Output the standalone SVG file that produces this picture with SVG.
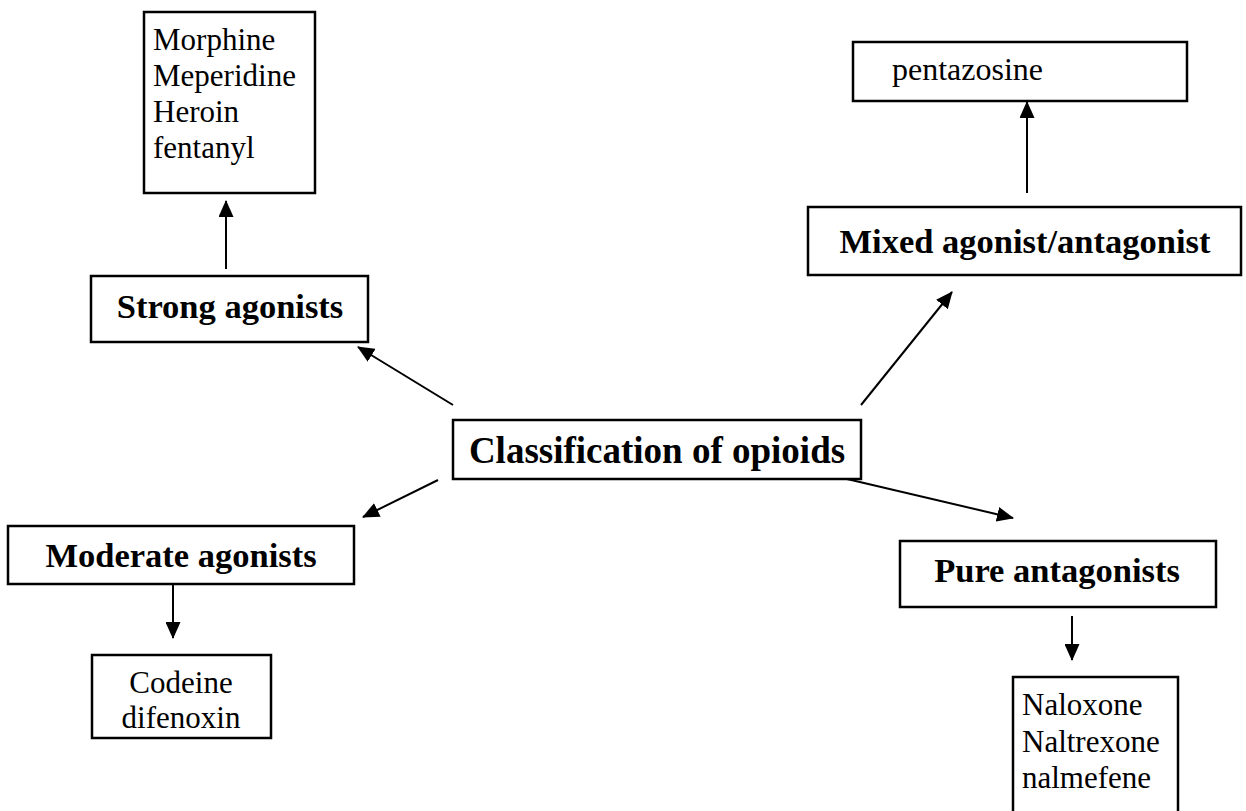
<svg xmlns="http://www.w3.org/2000/svg" width="1246" height="811" viewBox="0 0 1246 811">
<style>
.box{fill:#fff;stroke:#000;stroke-width:2.5}
.b{font-family:"Liberation Serif","Times New Roman",serif;font-weight:bold;font-size:34.5px;fill:#000;text-anchor:middle}
.bc{font-family:"Liberation Serif","Times New Roman",serif;font-weight:bold;font-size:37px;fill:#000;text-anchor:middle}
.r{font-family:"Liberation Serif","Times New Roman",serif;font-size:31px;fill:#000}
.rc{font-family:"Liberation Serif","Times New Roman",serif;font-size:31px;fill:#000;text-anchor:middle}
.ln{stroke:#000;stroke-width:2;fill:none;marker-end:url(#ah)}
</style>
<defs>
<marker id="ah" markerWidth="17" markerHeight="15" refX="16" refY="7.5" orient="auto" markerUnits="userSpaceOnUse">
<path d="M0,0 L17,7.5 L0,15 Z" fill="#000"/>
</marker>
</defs>
<rect width="1246" height="811" fill="#fff"/>
<g id="connectors">
<line class="ln" x1="226" y1="269" x2="226" y2="201"/>
<line class="ln" x1="1027" y1="193" x2="1027" y2="102"/>
<line class="ln" x1="453" y1="405" x2="358" y2="347"/>
<line class="ln" x1="861" y1="405" x2="952" y2="292"/>
<line class="ln" x1="438" y1="480" x2="363" y2="517"/>
<line class="ln" x1="847" y1="479" x2="1013" y2="518"/>
<line class="ln" x1="173" y1="585" x2="173" y2="638"/>
<line class="ln" x1="1072" y1="616" x2="1072" y2="660"/>
</g>
<g id="morphine">
<rect class="box" x="144" y="12" width="171" height="181"/>
<text class="r" x="153" y="50">Morphine</text>
<text class="r" x="153" y="86">Meperidine</text>
<text class="r" x="153" y="122">Heroin</text>
<text class="r" x="153" y="158">fentanyl</text>
</g>
<g id="strong">
<rect class="box" x="91" y="276" width="277" height="66"/>
<text class="b" x="230" y="318">Strong agonists</text>
</g>
<g id="pentazosine">
<rect class="box" x="853" y="42" width="334" height="59"/>
<text class="r" x="892" y="80" style="font-size:32px">pentazosine</text>
</g>
<g id="mixed">
<rect class="box" x="808" y="207" width="433" height="68"/>
<text class="b" x="1025" y="253">Mixed agonist/antagonist</text>
</g>
<g id="classification">
<rect class="box" x="453" y="420" width="408" height="59"/>
<text class="bc" x="657" y="463">Classification of opioids</text>
</g>
<g id="moderate">
<rect class="box" x="8" y="526" width="346" height="58"/>
<text class="b" x="181" y="567">Moderate agonists</text>
</g>
<g id="codeine">
<rect class="box" x="92" y="655" width="179" height="83"/>
<text class="rc" x="181" y="693">Codeine</text>
<text class="rc" x="181" y="728">difenoxin</text>
</g>
<g id="pure">
<rect class="box" x="900" y="541" width="316" height="66"/>
<text class="b" x="1057" y="582">Pure antagonists</text>
</g>
<g id="naloxone">
<rect class="box" x="1013" y="677" width="165" height="140"/>
<text class="r" x="1022" y="715">Naloxone</text>
<text class="r" x="1022" y="752">Naltrexone</text>
<text class="r" x="1022" y="788">nalmefene</text>
</g>
</svg>
